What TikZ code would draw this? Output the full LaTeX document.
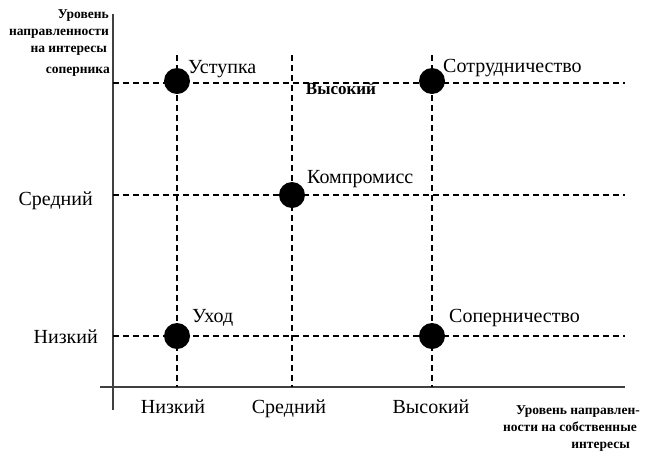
\documentclass[tikz,border=0pt]{standalone}
\usepackage{fontspec}
\setmainfont{Liberation Serif}
\begin{document}
\begin{tikzpicture}[x=1pt,y=-1pt,
  axis/.style={line width=1.8pt, draw=black!75},
  grid/.style={line width=1.3pt, dash pattern=on 6pt off 4pt},
  dot/.style={circle, fill=black, minimum size=26pt, inner sep=0pt},
  lbl/.style={font=\fontsize{20}{22}\selectfont, inner sep=0pt},
  small/.style={font=\bfseries\fontsize{13.5}{17}\selectfont, inner sep=0pt}]
\useasboundingbox (0,0) rectangle (659,459);
% axes
\coordinate (ytop) at (113,14);
\coordinate (ybot) at (113,410);
\coordinate (xl) at (100,387);
\coordinate (xr) at (625,387);
\draw[axis] (ytop) -- (ybot);
\draw[axis] (xl) -- (xr);
% grid lines
\coordinate (h1a) at (113,83);  \coordinate (h1b) at (625,83);
\coordinate (h2a) at (113,195); \coordinate (h2b) at (625,195);
\coordinate (h3a) at (113,336); \coordinate (h3b) at (625,336);
\coordinate (v1a) at (177,55);  \coordinate (v1b) at (177,387);
\coordinate (v2a) at (292,55);  \coordinate (v2b) at (292,387);
\coordinate (v3a) at (432,55);  \coordinate (v3b) at (432,387);
\draw[grid] (h1a) -- (h1b);
\draw[grid] (h2a) -- (h2b);
\draw[grid] (h3a) -- (h3b);
\draw[grid] (v1a) -- (v1b);
\draw[grid] (v2a) -- (v2b);
\draw[grid] (v3a) -- (v3b);
% dots
\node[dot] (d1) at (177,81) {};
\node[dot] (d2) at (432,81) {};
\node[dot] (d3) at (292,195) {};
\node[dot] (d4) at (177,336) {};
\node[dot] (d5) at (432,336) {};
% point labels
\node[lbl, anchor=base west] (t1) at (188,73) {Уступка};
\node[lbl, anchor=base west] (t2) at (443,72) {Сотрудничество};
\node[lbl, anchor=base west] (t3) at (307,183) {Компромисс};
\node[lbl, anchor=base west] (t4) at (192,322) {Уход};
\node[lbl, anchor=base west] (t5) at (449,322) {Соперничество};
\node[font=\bfseries\fontsize{17}{19}\selectfont, inner sep=0pt, anchor=base] (hi) at (341,94) {Высокий};
% y tick labels
\node[lbl, anchor=base east] (ym) at (93,205) {Средний};
\node[lbl, anchor=base east] (yl) at (98,343) {Низкий};
% x tick labels
\node[lbl, anchor=base] (xlow) at (173,413) {Низкий};
\node[lbl, anchor=base] (xmid) at (289,413) {Средний};
\node[lbl, anchor=base] (xhigh) at (431,413) {Высокий};
% axis titles
\node[small, anchor=base east] (ya1) at (109,18) {Уровень};
\node[small, anchor=base east] (ya2) at (109,35) {направленности};
\node[small, anchor=base east] (ya3) at (107,52) {на интересы};
\node[small, anchor=base east] (ya4) at (110,73) {соперника};
\node[small, anchor=base east] (xa1) at (640,414) {Уровень направлен-};
\node[small, anchor=base east] (xa2) at (637,431) {ности на собственные};
\node[small, anchor=base east] (xa3) at (630,448) {интересы};
\end{tikzpicture}
\end{document}
